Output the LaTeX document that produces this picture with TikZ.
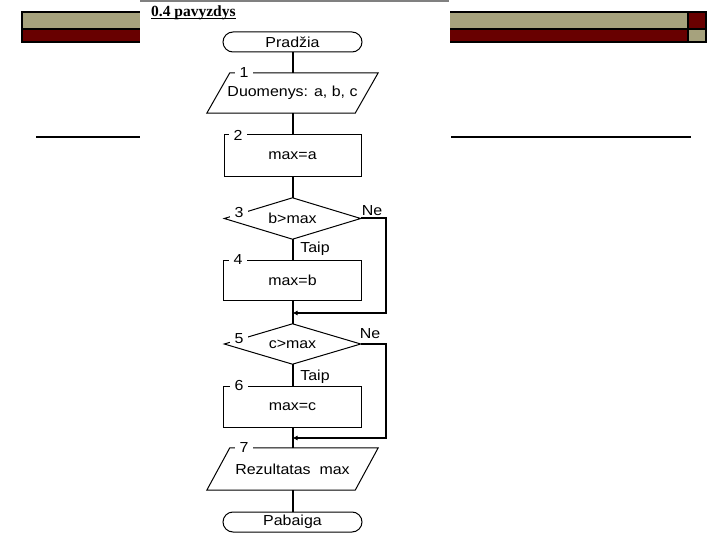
\documentclass[tikz,border=0pt]{standalone}
\usepackage{fontspec}
\setmainfont{Liberation Sans}
\newfontfamily\flowfont[FakeStretch=1.1]{Liberation Sans}
\newfontfamily\titlefont{Liberation Serif}
\definecolor{olive}{HTML}{A6A27D}
\definecolor{maroon}{HTML}{680000}
\usetikzlibrary{arrows.meta}
\tikzset{
  shp/.style={draw=black, line width=1pt},
  conn/.style={draw=black, line width=2pt},
  arr/.style={conn, -{Latex[length=5pt,width=5pt]}},
  txt/.style={font=\flowfont\fontsize{14.5}{17}\selectfont, inner sep=0pt},
  box/.style={shp, txt, minimum width=138, minimum height=41},
  term/.style={shp, txt, rounded corners=10pt, minimum width=139, minimum height=20},
  ghost/.style={txt, draw=none},
  num/.style={txt, fill=white, inner xsep=5pt, inner ysep=0pt},
  lbl/.style={txt},
  bar/.style={draw=black, line width=2pt},
}
\begin{document}
\begin{tikzpicture}[x=1pt,y=-1pt]
\useasboundingbox (0,0) rectangle (720,540);
\fill[white] (0,0) rectangle (720,540);
% header bar
\draw[bar, fill=olive] (22,12) rectangle (688,29);
\draw[bar, fill=maroon] (22,29) rectangle (688,42);
\draw[bar, fill=maroon] (688,12) rectangle (706,29);
\draw[bar, fill=olive] (688,29) rectangle (706,42);
\draw[line width=2.5pt] (36,137) -- (140,137);
\draw[line width=2.5pt] (451,137) -- (691,137);
% image panel
\fill[white] (140,0) rectangle (450,540);
\draw[black!50, line width=2pt] (140,1) -- (449,1);
\node[anchor=west, inner sep=0pt, font=\titlefont\bfseries\fontsize{15.5}{17}\selectfont] (title) at (151,13) {0.4 pavyzdys};
\draw[line width=1.4pt] ([yshift=-2pt]title.base west) -- ([yshift=-2pt]title.base east);
% flowchart nodes
\node[term] (start) at (292.5,42) {Pradžia};
\node[ghost, minimum width=171, minimum height=40] (in) at (292.5,93) {Duomenys: a, b, c};
\draw[shp] ([xshift=23pt]in.north west) -- (in.north east) -- ([xshift=-23pt]in.south east) -- (in.south west) -- cycle;
\node[box, minimum width=137, minimum height=42] (r2) at (292.5,156) {max=a};
\node[ghost, minimum width=136, minimum height=41] (d3) at (292.5,218.5) {b>max};
\draw[shp] (d3.north) -- (d3.east) -- (d3.south) -- (d3.west) -- cycle;
\node[box, minimum height=40] (r4) at (292.5,280) {max=b};
\node[ghost, minimum width=136, minimum height=40] (d5) at (292.5,344) {c>max};
\draw[shp] (d5.north) -- (d5.east) -- (d5.south) -- (d5.west) -- cycle;
\node[box] (r6) at (292.5,406.5) {max=c};
\node[ghost, minimum width=171, minimum height=42] (out) at (292.5,469) {Rezultatas \ max};
\draw[shp] ([xshift=23pt]out.north west) -- (out.north east) -- ([xshift=-23pt]out.south east) -- (out.south west) -- cycle;
\node[term] (end) at (292.5,522) {Pabaiga};
% number labels
\node[num] (n1) at (244,73) {1};
\node[num] (n2) at (238,135) {2};
\node[num] (n3) at (239,213) {3};
\node[num] (n4) at (238,260) {4};
\node[num] (n5) at (239,339) {5};
\node[num] (n6) at (239,386) {6};
\node[num] (n7) at (244,448) {7};
% branch labels
\node[lbl] (ne1) at (372,211) {Ne};
\node[lbl] (ne2) at (370,334) {Ne};
\node[lbl] (t1) at (315,249) {Taip};
\node[lbl] (t2) at (315,377) {Taip};
% connectors
\coordinate (m1) at (292.5,313);
\coordinate (m2) at (292.5,438);
\draw[conn] (start.south) -- (in.north);
\draw[conn] (in.south) -- (r2.north);
\draw[conn] (r2.south) -- (d3.north);
\draw[conn] (d3.south) -- (r4.north);
\draw[conn] (r4.south) -- (d5.north);
\draw[conn] (d5.south) -- (r6.north);
\draw[conn] (r6.south) -- (out.north);
\draw[conn] (out.south) -- (end.north);
\draw[arr] (d3.east) -- ++(25,0) |- (m1);
\draw[arr] (d5.east) -- ++(25,0) |- (m2);
\end{tikzpicture}
\end{document}
